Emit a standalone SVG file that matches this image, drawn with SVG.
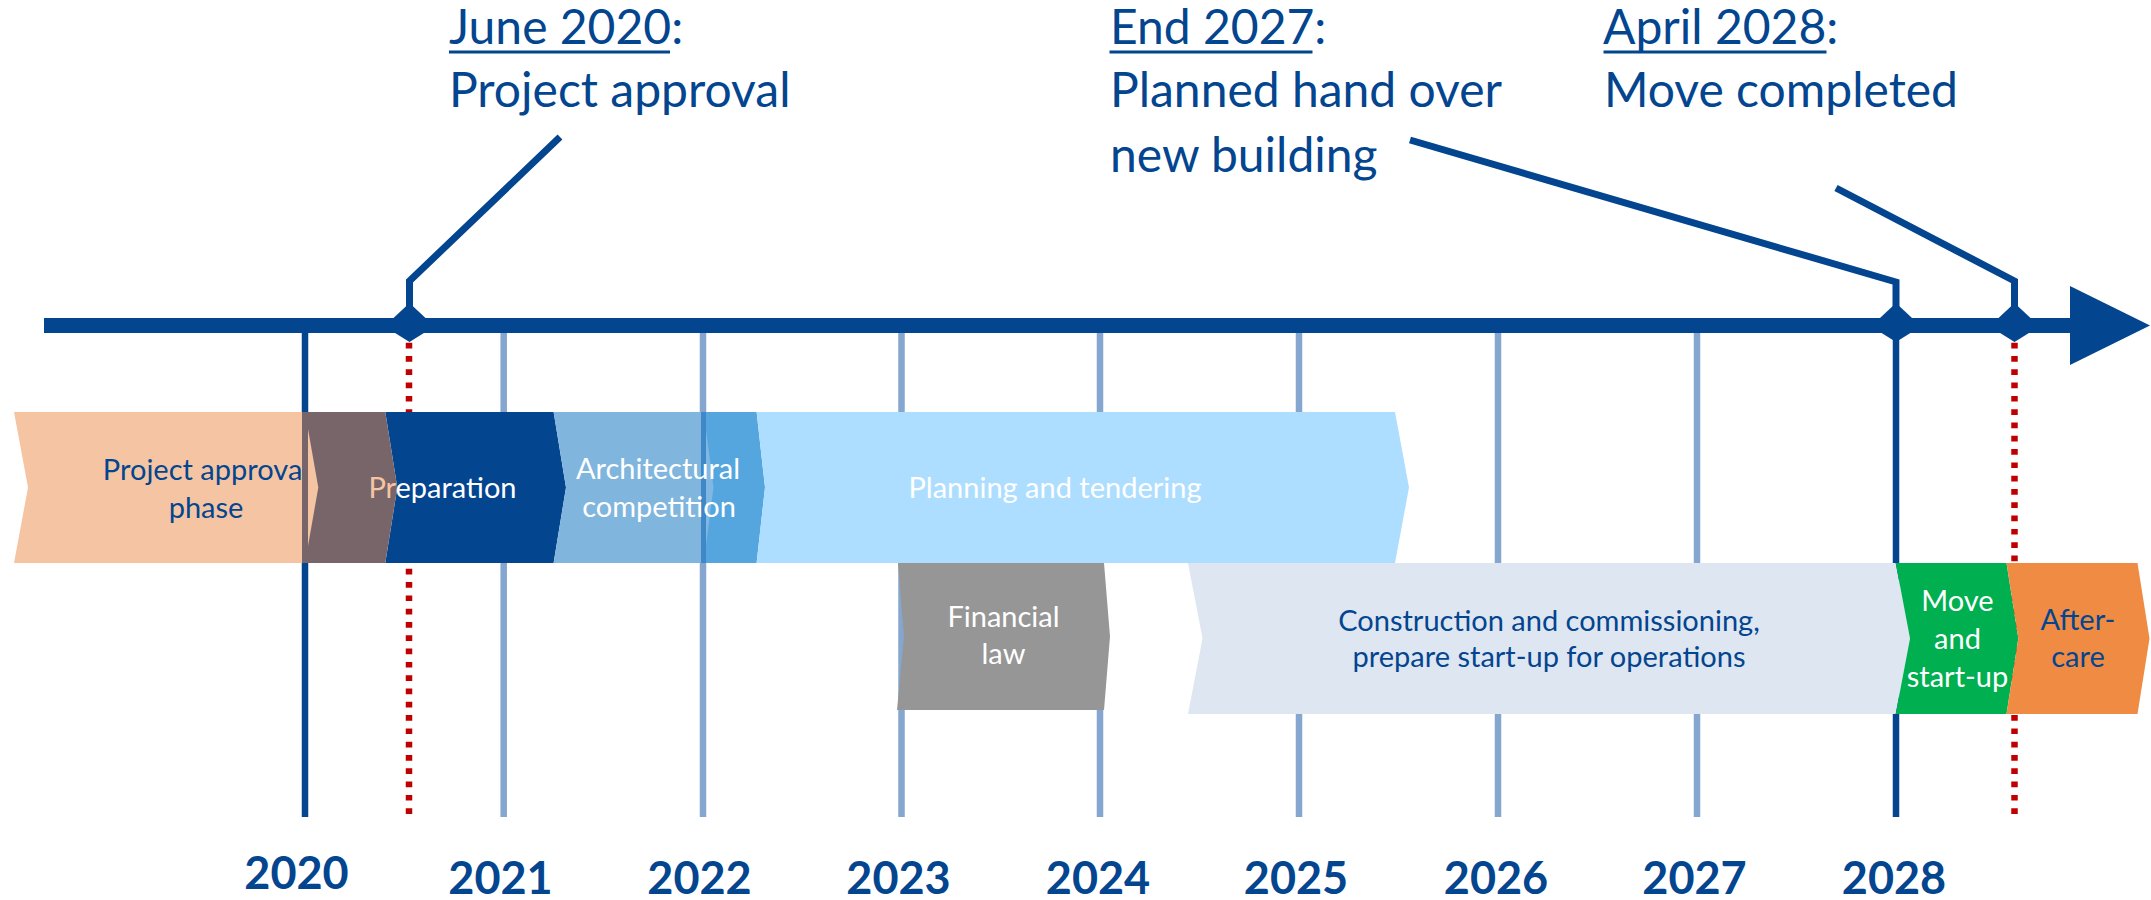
<svg xmlns="http://www.w3.org/2000/svg" width="2151" height="900" viewBox="0 0 2151 900">
  <defs>
    <style>
      .grid-dark { stroke: #03458F; stroke-width: 6.5; fill: none; }
      .grid-light { stroke: #85A6CE; stroke-width: 6.5; fill: none; }
      .milestone-dot { stroke: #C00000; stroke-width: 6.5; stroke-dasharray: 5.7 7.6; fill: none; }
      .axis { stroke: #03458F; stroke-width: 15; fill: none; }
      .leader { stroke: #03458F; stroke-width: 7; fill: none; stroke-linejoin: miter; }
      .marker { fill: #03458F; }
      .callout { font-family: Lato, "Open Sans", "Liberation Sans", sans-serif; font-size: 48px; fill: #03458F; }
      .bar-label { font-family: Lato, "Open Sans", "Liberation Sans", sans-serif; font-size: 29px; text-anchor: middle; }
      .year { font-family: Lato, "Open Sans", "Liberation Sans", sans-serif; font-weight: bold; font-size: 45px; fill: #03458F; text-anchor: middle; }
      .light { fill: #FFFFFF; }
      .dark { fill: #03458F; }
    </style>
  </defs>

  <!-- year grid -->
  <g id="grid">
    <line class="grid-dark" x1="305" y1="330" x2="305" y2="817"/>
    <line class="grid-light" x1="503.7" y1="330" x2="503.7" y2="817"/>
    <line class="grid-light" x1="703" y1="330" x2="703" y2="817"/>
    <line class="grid-light" x1="901.5" y1="330" x2="901.5" y2="817"/>
    <line class="grid-light" x1="1100" y1="330" x2="1100" y2="817"/>
    <line class="grid-light" x1="1299" y1="330" x2="1299" y2="817"/>
    <line class="grid-light" x1="1498" y1="330" x2="1498" y2="817"/>
    <line class="grid-light" x1="1697" y1="330" x2="1697" y2="817"/>
    <line class="grid-dark" x1="1896" y1="330" x2="1896" y2="817"/>
    <line class="milestone-dot" x1="409" y1="342.7" x2="409" y2="817"/>
    <line class="milestone-dot" x1="2014.5" y1="342.7" x2="2014.5" y2="817"/>
  </g>

  <!-- main time axis -->
  <g id="axis">
    <line class="axis" x1="44" y1="325.5" x2="2072" y2="325.5"/>
    <polygon class="marker" points="2070,286 2150,325.5 2070,365"/>
  </g>

  <!-- leader lines from milestones to their captions -->
  <g id="connectors">
    <polyline class="leader" points="560,137 409.5,281 409.5,310"/>
    <polyline class="leader" points="1410,140 1896,282 1896,310"/>
    <polyline class="leader" points="1836,188 2014.5,281 2014.5,310"/>
  </g>

  <!-- milestone markers on the axis -->
  <g id="milestones">
    <polygon class="marker" points="409.5,303 425.5,318 425.5,332 409.5,342 393.5,332 393.5,318"/>
    <polygon class="marker" points="1896,303 1912,318 1912,332 1896,342 1880,332 1880,318"/>
    <polygon class="marker" points="2014.5,303 2030.5,318 2030.5,332 2014.5,342 1998.5,332 1998.5,318"/>
  </g>

  <!-- milestone captions -->
  <g id="callout-june-2020">
    <text class="callout" x="449" y="44">June 2020:</text>
    <rect x="449" y="50.5" width="221" height="3" class="marker"/>
    <text class="callout" x="449" y="107">Project approval</text>
  </g>
  <g id="callout-end-2027">
    <text class="callout" x="1110" y="44">End 2027:</text>
    <rect x="1109.5" y="50.5" width="203" height="3" class="marker"/>
    <text class="callout" x="1110" y="107">Planned hand over</text>
    <text class="callout" x="1110" y="171.5">new building</text>
  </g>
  <g id="callout-april-2028">
    <text class="callout" x="1603" y="44">April 2028:</text>
    <rect x="1603.5" y="50.5" width="223" height="3" class="marker"/>
    <text class="callout" x="1604" y="107">Move completed</text>
  </g>

  <!-- phase bars, upper row -->
  <g id="phase-project-approval">
    <polygon fill="#F5C5A3" points="14,412 304,412 318.3,487.5 304,563 14,563 28,487.5"/>
    <text class="bar-label dark" x="206" y="480">Project approval</text>
    <text class="bar-label dark" x="206" y="517.5">phase</text>
  </g>
  <g id="phase-preparation">
    <polygon fill="#03458F" points="385.3,412 553.6,412 566,487.5 553.6,563 385.3,563 397.3,487.5"/>
    <polygon fill="#776569" points="302,412 385.3,412 397.3,487.5 385.3,563 302,563"/>
    <polygon fill="#F5C5A3" points="308,429 318.3,487.5 308,546"/>
    <text class="bar-label light" x="442.5" y="498"><tspan fill="#F5C5A3">Pr</tspan>eparation</text>
  </g>
  <g id="phase-architectural-competition">
    <polygon fill="#80B5DE" points="553.6,412 701,412 701,563 553.6,563 566,487.5"/>
    <rect x="701" y="412" width="5" height="151" fill="#3F87C6"/>
    <polygon fill="#55A6DE" points="706,412 756.6,412 765,487.5 756.6,563 706,563"/>
    <polygon fill="#80B8E4" points="706,430 713.5,487.5 706,545"/>
    <text class="bar-label light" x="658" y="479">Architectural</text>
    <text class="bar-label light" x="659" y="516.5">competition</text>
  </g>
  <g id="phase-planning-tendering">
    <polygon fill="#ADDEFF" points="756.6,412 1395,412 1409,487.5 1395,563 756.6,563 765,487.5"/>
    <text class="bar-label light" x="1055" y="498">Planning and tendering</text>
  </g>

  <!-- phase bars, lower row -->
  <g id="phase-financial-law">
    <polygon fill="#969696" points="898,563 1104,563 1110,636.5 1104,710 897,710 904,636.5"/>
    <text class="bar-label light" x="1003.5" y="626.5">Financial</text>
    <text class="bar-label light" x="1003.5" y="664">law</text>
  </g>
  <g id="phase-construction">
    <polygon fill="#DEE6F2" points="1188,563 1895.7,563 1910,638.5 1895.7,714 1188,714 1202.5,638.5"/>
    <text class="bar-label dark" x="1549" y="630.5">Construction and commissioning,</text>
    <text class="bar-label dark" x="1549" y="667">prepare start-up for operations</text>
  </g>
  <g id="phase-move">
    <polygon fill="#00AF50" points="1895.7,563 2006.5,563 2018.3,638.5 2006.5,714 1895.7,714 1910,638.5"/>
    <text class="bar-label light" x="1957.5" y="610.5">Move</text>
    <text class="bar-label light" x="1957.5" y="649">and</text>
    <text class="bar-label light" x="1957.5" y="687">start-up</text>
  </g>
  <g id="phase-aftercare">
    <polygon fill="#F08B43" points="2006.5,563 2137.5,563 2149.5,638.5 2137.5,714 2006.5,714 2018.3,638.5"/>
    <text class="bar-label dark" x="2078" y="630">After-</text>
    <text class="bar-label dark" x="2078" y="667">care</text>
  </g>

  <!-- year labels -->
  <g id="years">
    <text class="year" x="296.5" y="889" font-size="41">2020</text>
    <text class="year" x="500.5" y="894">2021</text>
    <text class="year" x="699.5" y="894">2022</text>
    <text class="year" x="898.5" y="894">2023</text>
    <text class="year" x="1098" y="894">2024</text>
    <text class="year" x="1296" y="894">2025</text>
    <text class="year" x="1496" y="894">2026</text>
    <text class="year" x="1694.5" y="894">2027</text>
    <text class="year" x="1894" y="894">2028</text>
  </g>
</svg>
